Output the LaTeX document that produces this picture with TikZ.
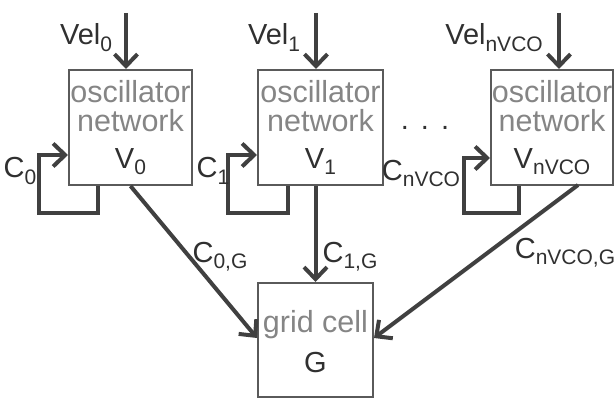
\documentclass[tikz,border=0pt]{standalone}
\usepackage{fontspec}
\setmainfont{Liberation Sans}
\usetikzlibrary{arrows.meta,calc}
\definecolor{linec}{HTML}{404040}
\definecolor{boxc}{HTML}{5A5A5A}
\definecolor{softtxt}{HTML}{858585}
\definecolor{darktxt}{HTML}{303030}
\newcommand\subx[1]{\raisebox{-0.22em}{\fontsize{21}{21}\selectfont #1}}
\begin{document}
\begin{tikzpicture}[x=1pt,y=-1pt,
  every node/.style={font=\fontsize{29}{29}\selectfont, text=darktxt},
  oscbox/.style={draw=boxc, line width=2pt, minimum height=115pt, inner sep=0pt},
  arr/.style={draw=linec, line width=4pt, -{Straight Barb[length=12pt,width=23pt]}},
  lab/.style={anchor=base, inner sep=0pt},
  soft/.style={anchor=base, inner sep=0pt, text=softtxt, font=\fontsize{30.5}{30.5}\selectfont}]
\useasboundingbox (0,0) rectangle (615,398);
% boxes
\node[oscbox, minimum width=123pt] (b0) at (130.5,127.5) {};
\node[oscbox, minimum width=125pt] (b1) at (320.5,127.5) {};
\node[oscbox, minimum width=122pt] (b2) at (552,127.5) {};
\node[oscbox, minimum width=115pt, minimum height=114pt] (g) at (315.5,340) {};
% box texts
\node[soft] (t0a) at (130.5,103) {oscillator};
\node[soft] (t0b) at (130.5,132) {network};
\node[lab] (t0c) at (130.5,168) {V\subx{0}};
\node[soft] (t1a) at (320.5,103) {oscillator};
\node[soft] (t1b) at (320.5,132) {network};
\node[lab] (t1c) at (320.5,168) {V\subx{1}};
\node[soft] (t2a) at (552,103) {oscillator};
\node[soft] (t2b) at (552,132) {network};
\node[lab] (t2c) at (552,168) {V\subx{nVCO}};
\node[soft] (tga) at (315.5,332) {grid cell};
\node[lab] (tgb) at (315.5,372) {G};
% dots
\node[lab] (dots) at (425,130) {.\hspace{12pt}.\hspace{12pt}.};
% inputs
\coordinate (v0) at (126,13);
\coordinate (v1) at (316,13);
\coordinate (v2) at (559,13);
\draw[arr] (v0) -- (v0 |- b0.north);
\draw[arr] (v1) -- (v1 |- b1.north);
\draw[arr] (v2) -- (v2 |- b2.north);
\node[lab] (l0) at (86,45) {Vel\subx{0}};
\node[lab] (l1) at (274,45) {Vel\subx{1}};
\node[lab] (l2) at (494,45) {Vel\subx{nVCO}};
% self loops
\draw[arr]
  ($(b0.south)+(-32.5,0)$) -- ++(0,27) -| ($(b0.west)+(-29,27.5)$) -- ($(b0.west)+(0,27.5)$);
\draw[arr]
  ($(b1.south)+(-32.5,0)$) -- ++(0,27) -| ($(b1.west)+(-29,27.5)$) -- ($(b1.west)+(0,27.5)$);
\draw[arr]
  ($(b2.south)+(-33,0)$) -- ++(0,27) -| ($(b2.west)+(-26,30.5)$) -- ($(b2.west)+(0,30.5)$);
\node[lab] (c0) at (20,178) {C\subx{0}};
\node[lab] (c1) at (213,178) {C\subx{1}};
\node[lab] (c2) at (421,180) {C\subx{nVCO}};
% to grid
\coordinate (s2) at (578,185);
\draw[arr] (b0.south) -- ($(g.west)+(0,-2)$);
\draw[arr] (b1.south -| g.north) -- (g.north);
\draw[arr] (s2) -- ($(g.east)+(0,-2)$);
\node[lab] (cg0) at (220,262) {C\subx{0,G}};
\node[lab] (cg1) at (350,262) {C\subx{1,G}};
\node[lab] (cg2) at (565,258) {C\subx{nVCO,G}};
\end{tikzpicture}
\end{document}
